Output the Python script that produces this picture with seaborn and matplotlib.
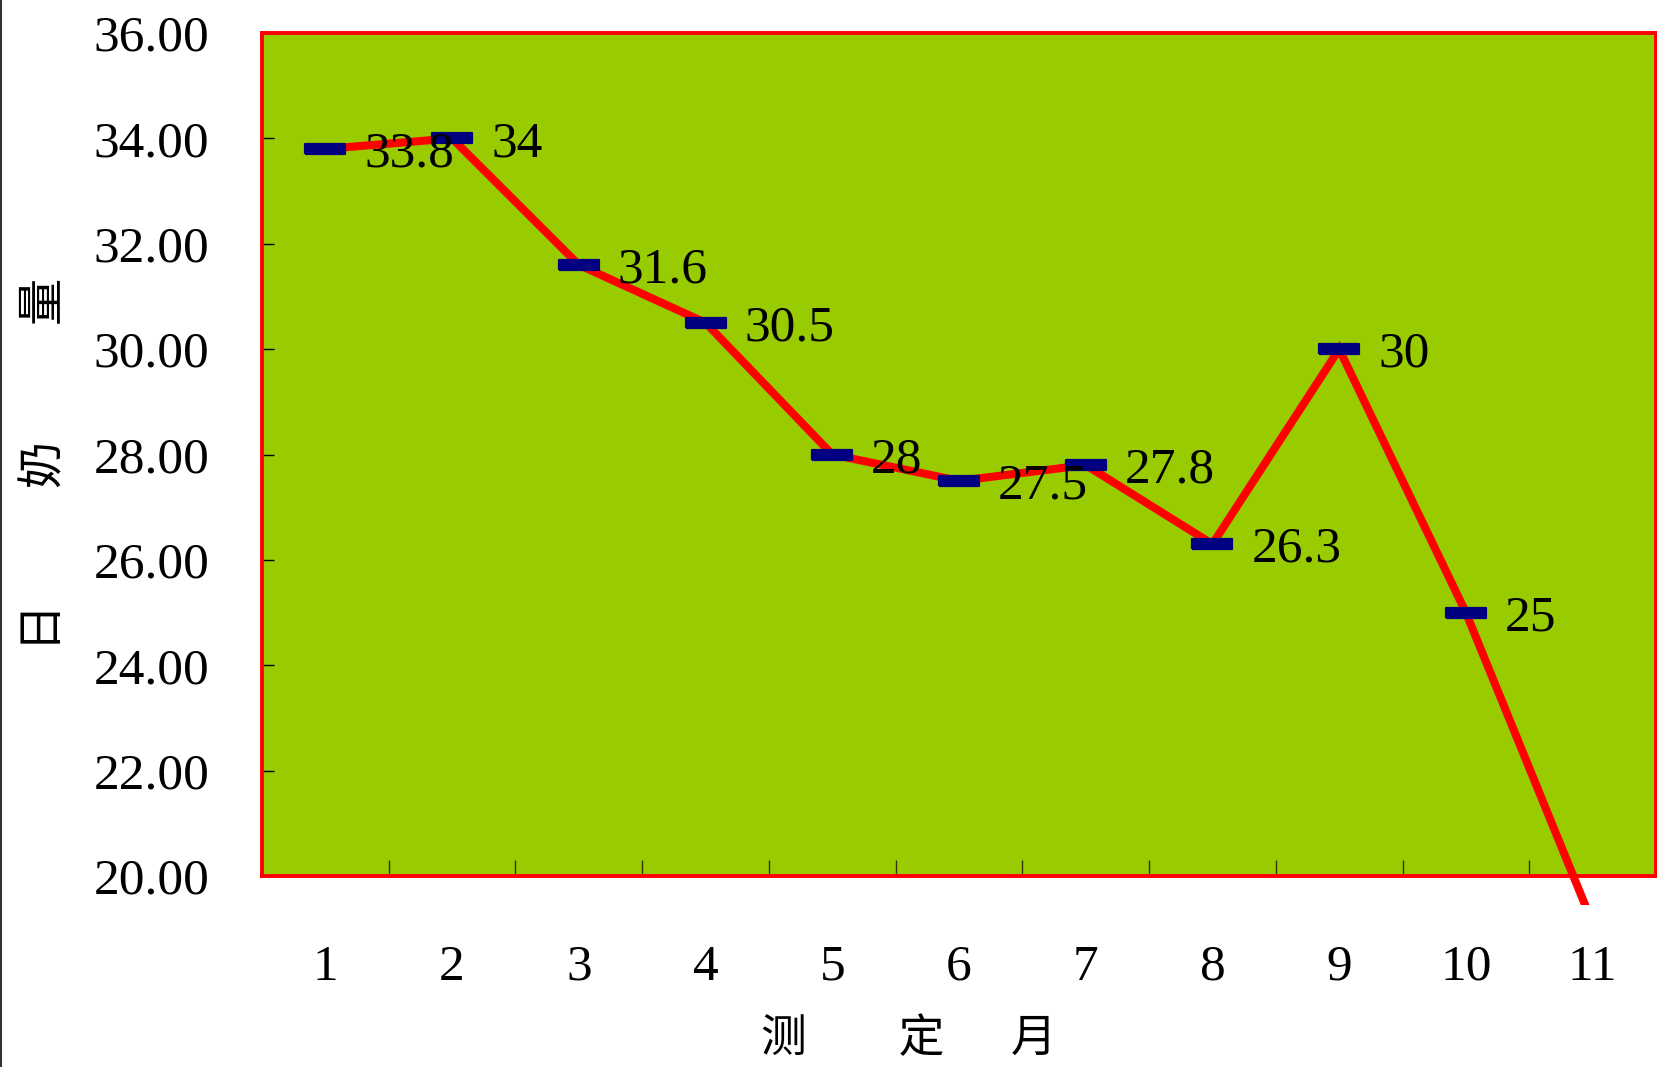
import numpy as np
import pandas as pd
import matplotlib
matplotlib.use("Agg")
import matplotlib.pyplot as plt
import seaborn as sns
from matplotlib.markers import MarkerStyle
from matplotlib.patches import Rectangle
from matplotlib.lines import Line2D
from matplotlib.ticker import FixedLocator, FormatStrFormatter

# Monthly test-day milk yield
months = [1, 2, 3, 4, 5, 6, 7, 8, 9, 10, 11]
daily_milk = [33.8, 34.0, 31.6, 30.5, 28.0, 27.5, 27.8, 26.3, 30.0, 25.0, 19.1]
value_labels = ["33.8", "34", "31.6", "30.5", "28", "27.5", "27.8", "26.3", "30", "25", "19.1"]

y_ticks = [20, 22, 24, 26, 28, 30, 32, 34, 36]
x_label = "测\u3000\u3000定\u3000  月"
y_label = "日\u3000\u3000  奶\u3000\u3000  量"

df = pd.DataFrame({"month": months, "milk": daily_milk})

sns.set_theme(style="white")
plt.rcParams["font.family"] = ["Liberation Serif", "DejaVu Serif"]
for key in ["text.color", "axes.labelcolor", "xtick.color", "ytick.color"]:
    plt.rcParams[key] = "black"
cjk = ["Noto Sans CJK SC", "DejaVu Sans"]

W, H = 1658, 1067
fig = plt.figure(figsize=(W / 100, H / 100), dpi=100)
ax_l, ax_r, ax_t, ax_b = 262, 1656, 33, 876
ax = fig.add_axes([ax_l / W, 1 - ax_b / H, (ax_r - ax_l) / W, (ax_b - ax_t) / H])
ax.set_facecolor("#99CC00")

# Trend line (allowed to run a little past the bottom of the plot area)
sns.lineplot(data=df, x="month", y="milk", ax=ax, color="#FF0000",
             linewidth=5.8, solid_joinstyle="miter", solid_capstyle="butt")
line = ax.lines[0]
line.set_clip_path(Rectangle((0, -0.034), 1, 1.04, transform=ax.transAxes))

# Dash-shaped markers
dash = MarkerStyle([(-1, -0.25), (1, -0.25), (1, 0.25), (-1, 0.25), (-1, -0.25)],
                   joinstyle="round")
sns.scatterplot(data=df, x="month", y="milk", ax=ax, marker=dash, s=820,
                color="#000080", edgecolor="#000080", linewidth=1.6, zorder=5)

ax.set_xlim(0.5, 11.5)
ax.set_ylim(20, 36)

# Value labels
for m, v, t in zip(months, daily_milk, value_labels):
    if 20 <= v <= 36:
        ax.annotate(t, (m, v), xytext=(28, -4), textcoords="offset points",
                    ha="left", va="center", fontsize=37, color="black",
                    zorder=6)

# Axes styling
ax.yaxis.set_major_locator(FixedLocator(y_ticks))
ax.yaxis.set_major_formatter(FormatStrFormatter("%.2f"))
ax.set_xticks(months)
ax.set_xticklabels([str(m) for m in months])
ax.xaxis.set_minor_locator(FixedLocator([m + 0.5 for m in months[:-1]]))
ax.tick_params(axis="y", which="major", direction="in", length=8.5, width=1,
               color="black", labelsize=37, pad=38, left=True)
ax.tick_params(axis="x", which="major", length=0, labelsize=37, pad=49)
ax.tick_params(axis="x", which="minor", direction="in", length=11.5, width=1,
               color="#333300", bottom=True)
for lbl in ax.get_yticklabels():
    lbl.set_va("center_baseline")

for side in ["top", "bottom", "left", "right"]:
    ax.spines[side].set_visible(True)
    ax.spines[side].set_color("#FF0000")
    ax.spines[side].set_linewidth(2.8)

ax.set_xlabel(x_label, fontsize=33, family=cjk, va="top")
ax.xaxis.set_label_coords(0.4638, -0.165)
ax.set_ylabel(y_label, fontsize=34, family=cjk)
ax.yaxis.set_label_coords(-0.138, 0.488)

# thin frame line on the left edge of the figure
fig.add_artist(Line2D([0.0008, 0.0008], [0, 1], color="#333333", lw=1.5,
                      transform=fig.transFigure))

fig.savefig("out.png", dpi=100, facecolor="white")
